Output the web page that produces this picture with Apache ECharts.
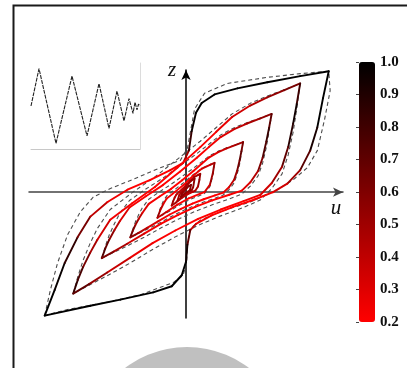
<!DOCTYPE html>
<html>
<head>
<meta charset="utf-8">
<title>hysteresis loops</title>
<script src="https://cdn.jsdelivr.net/npm/echarts@6/dist/echarts.min.js"></script>
<style>
  html, body { margin: 0; padding: 0; background: #fff; }
  #chart { width: 407px; height: 368px; }
</style>
</head>
<body>
<div id="chart"></div>
<script>
// coloured loops, each point is [u, z, colour value 0.2..1.0]
// Up = branch from lower tip to upper tip, Down = back again
const loop1Up = [[-0.99,-1.01,1.0],[-0.92,-0.80,1.0],[-0.85,-0.58,0.95],[-0.76,-0.37,0.75],[-0.67,-0.20,0.5],[-0.55,-0.08,0.3],[-0.41,0.02,0.2],[-0.25,0.10,0.2],[-0.11,0.18,0.2],[-0.02,0.24,0.3],[0.02,0.34,0.7],[0.04,0.50,0.95],[0.07,0.65,1.0],[0.11,0.73,1.0],[0.20,0.80,1.0],[0.36,0.85,1.0],[0.57,0.90,1.0],[0.80,0.95,1.0],[1.00,0.99,1.0]];
const loop1Down = [[1.00,0.99,1.0],[0.96,0.77,1.0],[0.92,0.53,1.0],[0.87,0.34,0.85],[0.80,0.18,0.6],[0.71,0.07,0.4],[0.61,0.00,0.28],[0.48,-0.06,0.2],[0.33,-0.12,0.2],[0.18,-0.19,0.2],[0.07,-0.26,0.25],[0.03,-0.31,0.5],[0.01,-0.43,0.9],[0.00,-0.57,1.0],[-0.03,-0.68,1.0],[-0.10,-0.77,1.0],[-0.23,-0.82,1.0],[-0.46,-0.88,1.0],[-0.67,-0.93,1.0],[-0.99,-1.01,1.0]];

const loop2Up = [[-0.79,-0.83,0.85],[-0.758,-0.718,0.85],[-0.720,-0.610,0.7],[-0.671,-0.495,0.55],[-0.621,-0.390,0.4],[-0.531,-0.226,0.28],[-0.377,-0.090,0.2],[-0.218,0.042,0.2],[-0.059,0.202,0.2],[0.100,0.369,0.2],[0.212,0.494,0.24],[0.323,0.615,0.3],[0.450,0.709,0.4],[0.569,0.776,0.5],[0.689,0.835,0.58],[0.80,0.89,0.66]];
const loop2Down = [[0.80,0.89,0.75],[0.776,0.723,0.95],[0.751,0.563,0.95],[0.716,0.369,0.8],[0.673,0.209,0.6],[0.601,0.075,0.4],[0.520,-0.023,0.28],[0.403,-0.073,0.2],[0.244,-0.142,0.2],[0.085,-0.219,0.2],[-0.075,-0.314,0.2],[-0.234,-0.417,0.22],[-0.393,-0.538,0.3],[-0.552,-0.658,0.45],[-0.679,-0.753,0.6],[-0.79,-0.83,0.8]];

const loop3Up = [[-0.59,-0.54,0.75],[-0.566,-0.463,0.75],[-0.538,-0.389,0.62],[-0.501,-0.310,0.48],[-0.464,-0.238,0.36],[-0.396,-0.126,0.26],[-0.281,-0.033,0.2],[-0.162,0.058,0.2],[-0.043,0.168,0.2],[0.076,0.282,0.2],[0.160,0.369,0.22],[0.243,0.451,0.27],[0.338,0.516,0.35],[0.427,0.562,0.44],[0.517,0.602,0.5],[0.60,0.64,0.58]];
const loop3Down = [[0.60,0.64,0.67],[0.582,0.526,0.84],[0.563,0.416,0.82],[0.537,0.282,0.68],[0.505,0.173,0.52],[0.451,0.081,0.36],[0.391,0.013,0.26],[0.303,-0.021,0.2],[0.184,-0.068,0.2],[0.065,-0.121,0.2],[-0.055,-0.186,0.2],[-0.174,-0.257,0.22],[-0.293,-0.339,0.28],[-0.412,-0.422,0.4],[-0.507,-0.487,0.52],[-0.59,-0.54,0.68]];

const loop4Up = [[-0.39,-0.37,0.66],[-0.374,-0.319,0.64],[-0.355,-0.270,0.55],[-0.331,-0.218,0.45],[-0.306,-0.170,0.35],[-0.261,-0.096,0.26],[-0.185,-0.035,0.2],[-0.106,0.025,0.2],[-0.027,0.098,0.2],[0.052,0.174,0.2],[0.108,0.231,0.22],[0.163,0.285,0.26],[0.226,0.328,0.32],[0.285,0.359,0.4],[0.345,0.385,0.45],[0.40,0.41,0.52]];
const loop4Down = [[0.40,0.41,0.59],[0.388,0.334,0.72],[0.376,0.262,0.68],[0.358,0.174,0.58],[0.337,0.101,0.45],[0.301,0.040,0.33],[0.261,-0.004,0.25],[0.203,-0.027,0.2],[0.124,-0.058,0.2],[0.045,-0.093,0.2],[-0.035,-0.136,0.2],[-0.114,-0.183,0.22],[-0.193,-0.237,0.27],[-0.272,-0.292,0.36],[-0.335,-0.335,0.48],[-0.39,-0.37,0.6]];

const loop5Up = [[-0.20,-0.21,0.56],[-0.182,-0.152,0.48],[-0.158,-0.095,0.33],[-0.135,-0.052,0.25],[-0.096,-0.016,0.2],[-0.016,0.060,0.2],[0.052,0.137,0.22],[0.112,0.193,0.3],[0.172,0.226,0.4],[0.20,0.24,0.46]];
const loop5Down = [[0.20,0.24,0.5],[0.188,0.155,0.58],[0.168,0.062,0.42],[0.130,0.001,0.25],[0.10,-0.012,0.2],[0.02,-0.050,0.2],[-0.06,-0.102,0.22],[-0.14,-0.165,0.33],[-0.20,-0.21,0.5]];

const loop6Up = [[-0.10,-0.11,0.5],[-0.091,-0.077,0.5],[-0.079,-0.043,0.45],[-0.067,-0.019,0.4],[-0.048,0.002,0.4],[-0.008,0.046,0.4],[0.026,0.090,0.42],[0.056,0.123,0.45],[0.086,0.142,0.5],[0.10,0.15,0.5]];
const loop6Down = [[0.10,0.15,0.5],[0.094,0.101,0.55],[0.084,0.047,0.5],[0.065,0.012,0.45],[0.05,0.004,0.42],[0.01,-0.018,0.4],[-0.03,-0.048,0.42],[-0.07,-0.084,0.45],[-0.10,-0.11,0.5]];

const loop7Up = [[-0.06,-0.07,0.5],[-0.047,-0.024,0.48],[-0.029,0.007,0.45],[-0.005,0.038,0.45],[0.016,0.069,0.48],[0.034,0.091,0.5],[0.06,0.11,0.55]];
const loop7Down = [[0.06,0.11,0.55],[0.050,0.039,0.55],[0.039,0.014,0.5],[0.018,0.002,0.45],[-0.006,-0.016,0.45],[-0.03,-0.039,0.48],[-0.06,-0.07,0.5]];

const loop8Up = [[-0.035,-0.035,0.55],[-0.028,-0.011,0.55],[-0.017,0.006,0.5],[-0.003,0.022,0.5],[0.009,0.038,0.55],[0.020,0.050,0.55],[0.035,0.06,0.6]];
const loop8Down = [[0.035,0.06,0.6],[0.029,0.022,0.6],[0.023,0.010,0.55],[0.011,0.003,0.5],[-0.004,-0.007,0.5],[-0.018,-0.019,0.55],[-0.035,-0.035,0.55]];

// grey dashed loops, [u, z]
const dash1Up = [[-0.99,-1.01],[-0.95,-0.80],[-0.90,-0.58],[-0.83,-0.35],[-0.74,-0.16],[-0.65,-0.04],[-0.53,0.03],[-0.36,0.11],[-0.18,0.20],[-0.04,0.26],[0.01,0.36],[0.035,0.52],[0.06,0.68],[0.13,0.81],[0.29,0.89],[0.57,0.94],[0.80,0.97],[1.0,0.99]];
const dash1Down = [[1.0,0.99],[1.01,0.83],[0.97,0.59],[0.92,0.34],[0.85,0.20],[0.75,0.10],[0.64,0.02],[0.45,-0.08],[0.24,-0.16],[0.10,-0.23],[0.03,-0.30],[0.01,-0.43],[0.005,-0.58],[-0.02,-0.68],[-0.09,-0.74],[-0.32,-0.84],[-0.55,-0.90],[-0.83,-0.96],[-0.99,-1.01]];
const dash2Up = [[-0.79,-0.83],[-0.758,-0.692],[-0.720,-0.555],[-0.671,-0.417],[-0.621,-0.297],[-0.531,-0.142],[-0.377,-0.004],[-0.218,0.125],[-0.059,0.271],[0.100,0.417],[0.212,0.529],[0.323,0.641],[0.450,0.727],[0.569,0.787],[0.689,0.838],[0.80,0.89]];
const dash2Down = [[0.80,0.89],[0.776,0.684],[0.751,0.494],[0.716,0.305],[0.673,0.150],[0.601,0.03],[0.520,-0.065],[0.403,-0.125],[0.244,-0.194],[0.085,-0.271],[-0.075,-0.366],[-0.234,-0.469],[-0.393,-0.581],[-0.552,-0.684],[-0.679,-0.761],[-0.79,-0.83]];
const dash3Up = [[-0.59,-0.54],[-0.566,-0.446],[-0.538,-0.351],[-0.501,-0.257],[-0.464,-0.174],[-0.396,-0.068],[-0.281,0.026],[-0.162,0.115],[-0.043,0.215],[0.076,0.316],[0.160,0.392],[0.243,0.469],[0.338,0.528],[0.427,0.569],[0.517,0.605],[0.60,0.64]];
const dash3Down = [[0.60,0.64],[0.582,0.498],[0.563,0.369],[0.537,0.239],[0.505,0.133],[0.451,0.05],[0.391,-0.015],[0.303,-0.056],[0.184,-0.103],[0.065,-0.157],[-0.055,-0.221],[-0.174,-0.292],[-0.293,-0.369],[-0.412,-0.440],[-0.507,-0.493],[-0.59,-0.54]];
const dash4Up = [[-0.39,-0.37],[-0.374,-0.308],[-0.355,-0.245],[-0.331,-0.183],[-0.306,-0.128],[-0.261,-0.058],[-0.185,0.004],[-0.106,0.063],[-0.027,0.129],[0.052,0.196],[0.108,0.246],[0.163,0.297],[0.226,0.336],[0.285,0.363],[0.345,0.387],[0.40,0.41]];
const dash4Down = [[0.40,0.41],[0.388,0.316],[0.376,0.231],[0.358,0.145],[0.337,0.075],[0.301,0.02],[0.261,-0.023],[0.203,-0.050],[0.124,-0.081],[0.045,-0.117],[-0.035,-0.159],[-0.114,-0.206],[-0.193,-0.257],[-0.272,-0.304],[-0.335,-0.339],[-0.39,-0.37]];
const dash5Up = [[-0.20,-0.21],[-0.182,-0.138],[-0.158,-0.070],[-0.135,-0.03],[-0.096,0.006],[-0.016,0.078],[0.052,0.146],[0.112,0.197],[0.172,0.227],[0.20,0.24]];
const dash5Down = [[0.20,0.24],[0.188,0.137],[0.168,0.047],[0.130,-0.010],[0.10,-0.026],[0.02,-0.064],[-0.06,-0.116],[-0.14,-0.172],[-0.20,-0.21]];

// input signal in the small inset
const insetTime = [0, 8, 25, 41, 56, 68, 78, 86, 93, 98, 102, 104, 106, 107.5, 109];
const insetSignal = [0, 1.0, -1.0, 0.8, -0.8, 0.6, -0.6, 0.4, -0.4, 0.2, -0.2, 0.1, -0.1, 0.05, 0];

const colourLoops = [
  [loop1Up, loop1Down], [loop2Up, loop2Down], [loop3Up, loop3Down], [loop4Up, loop4Down],
  [loop5Up, loop5Down], [loop6Up, loop6Down], [loop7Up, loop7Down], [loop8Up, loop8Down]
];
const dashLoops = [
  [dash1Up, dash1Down], [dash2Up, dash2Down], [dash3Up, dash3Down],
  [dash4Up, dash4Down], [dash5Up, dash5Down]
];

// each coloured loop is cut into short pieces so every piece gets its own colour
const segments = [];
colourLoops.forEach(function (loop) {
  const pts = loop[0].concat(loop[1].slice(1));
  for (let i = 1; i < pts.length; i++) {
    const a = pts[i - 1], b = pts[i];
    segments.push([a[0], a[1], b[0], b[1], (a[2] + b[2]) / 2]);
  }
});

function drawSegment(params, api) {
  const p1 = api.coord([api.value(0), api.value(1)]);
  const p2 = api.coord([api.value(2), api.value(3)]);
  return {
    type: 'line',
    shape: { x1: p1[0], y1: p1[1], x2: p2[0], y2: p2[1] },
    style: { stroke: api.visual('color'), lineWidth: 1.9, lineCap: 'round' }
  };
}

const dashSeries = dashLoops.map(function (loop) {
  return {
    type: 'line',
    xAxisIndex: 0, yAxisIndex: 0,
    data: loop[0].concat(loop[1].slice(1)),
    showSymbol: false,
    silent: true,
    z: 2,
    lineStyle: { color: '#4d4d4d', width: 1.1, type: [4, 3] }
  };
});

const hidden = { show: false };
const serif = '"Liberation Serif", "Times New Roman", serif';

const chart = echarts.init(document.getElementById('chart'));
chart.setOption({
  animation: false,
  backgroundColor: '#fff',
  grid: [
    { left: 29, right: 64, top: 70, bottom: 50 },
    { left: 31, top: 63, width: 109, height: 86 },
    { left: 359, top: 62, width: 16, height: 260 }
  ],
  xAxis: [
    {
      gridIndex: 0, type: 'value', min: -1.1, max: 1.1,
      axisLine: { onZero: true, symbol: ['none', 'arrow'], symbolSize: [7, 10], lineStyle: { color: '#444', width: 1.5 } },
      axisTick: hidden, axisLabel: hidden, splitLine: hidden
    },
    {
      gridIndex: 1, type: 'value', min: 0, max: 109,
      axisLine: { onZero: false, lineStyle: { color: '#c8c8c8', width: 1 } },
      axisTick: hidden, axisLabel: hidden, splitLine: hidden
    },
    { gridIndex: 2, type: 'value', show: false }
  ],
  yAxis: [
    {
      gridIndex: 0, type: 'value', min: -1.03, max: 1.0,
      axisLine: { onZero: true, symbol: ['none', 'arrow'], symbolSize: [7, 10], lineStyle: { color: '#000', width: 1.5 } },
      axisTick: hidden, axisLabel: hidden, splitLine: hidden
    },
    {
      gridIndex: 1, type: 'value', min: -1.15, max: 1.15, position: 'right',
      axisLine: { onZero: false, lineStyle: { color: '#dcdcdc', width: 1 } },
      axisTick: hidden, axisLabel: hidden, splitLine: hidden
    },
    {
      gridIndex: 2, type: 'value', min: 0.2, max: 1.0, interval: 0.1, position: 'right',
      axisLine: hidden,
      axisTick: { show: true, inside: true, length: 3, lineStyle: { color: '#444' } },
      axisLabel: {
        margin: 5, color: '#111', fontFamily: serif, fontWeight: 'bold', fontSize: 15,
        formatter: function (v) { return v.toFixed(1); }
      },
      splitLine: hidden
    }
  ],
  visualMap: {
    type: 'continuous',
    seriesIndex: 0,
    dimension: 4,
    min: 0.2, max: 1.0,
    orient: 'vertical',
    left: 359, top: 62,
    itemWidth: 16, itemHeight: 260,
    padding: 0,
    calculable: false,
    hoverLink: false,
    inRange: { color: ['#ff0000', '#000000'] }
  },
  series: [
    {
      type: 'custom',
      xAxisIndex: 0, yAxisIndex: 0,
      renderItem: drawSegment,
      data: segments,
      silent: true,
      z: 3
    }
  ].concat(dashSeries).concat([
    {
      type: 'line',
      xAxisIndex: 1, yAxisIndex: 1,
      data: insetTime.map(function (t, i) { return [t, insetSignal[i]]; }),
      showSymbol: false,
      silent: true,
      lineStyle: { color: '#222', width: 1.1, type: [4, 1] }
    }
  ]),
  graphic: [
    { type: 'circle', shape: { cx: 187, cy: 449, r: 102 }, style: { fill: '#c0c0c0' }, z: 0 },
    { type: 'rect', shape: { x: 13.5, y: 5.5, width: 420, height: 400 }, style: { fill: 'none', stroke: '#1a1a1a', lineWidth: 2 }, z: 1 },
    { type: 'text', x: 172, y: 70, style: { text: 'z', font: 'italic 21px ' + serif, fill: '#111', align: 'center', verticalAlign: 'middle' } },
    { type: 'text', x: 336, y: 208, style: { text: 'u', font: 'italic 21px ' + serif, fill: '#111', align: 'center', verticalAlign: 'middle' } }
  ]
});
</script>
</body>
</html>
